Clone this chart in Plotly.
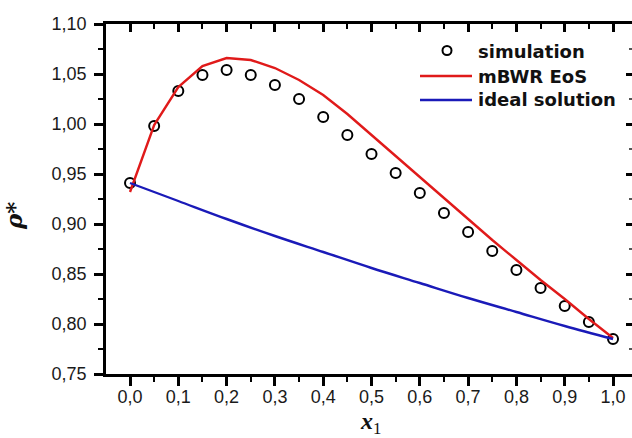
import plotly.graph_objects as go

x_sim = [0.0, 0.05, 0.1, 0.15, 0.2, 0.25, 0.3, 0.35, 0.4, 0.45, 0.5,
         0.55, 0.6, 0.65, 0.7, 0.75, 0.8, 0.85, 0.9, 0.95, 1.0]
rho_sim = [0.941, 0.998, 1.033, 1.049, 1.054, 1.049, 1.039, 1.025, 1.007, 0.989, 0.970,
           0.951, 0.931, 0.911, 0.892, 0.873, 0.854, 0.836, 0.818, 0.802, 0.785]

x_eos = x_sim
rho_eos = [0.932, 0.999, 1.037, 1.058, 1.066, 1.064, 1.056, 1.044, 1.029, 1.010, 0.989,
           0.968, 0.947, 0.926, 0.905, 0.884, 0.864, 0.844, 0.825, 0.805, 0.786]

x_ideal = [0.0, 0.1, 0.2, 0.3, 0.4, 0.5, 0.6, 0.7, 0.8, 0.9, 1.0]
rho_ideal = [0.941, 0.923, 0.905, 0.888, 0.872, 0.856, 0.841, 0.826, 0.812, 0.798, 0.785]

x_ticks = [0.0, 0.1, 0.2, 0.3, 0.4, 0.5, 0.6, 0.7, 0.8, 0.9, 1.0]
y_ticks = [0.75, 0.80, 0.85, 0.90, 0.95, 1.00, 1.05, 1.10]

legend_labels = ["simulation", "mBWR EoS", "ideal solution"]

X_RANGE = [-0.0497, 1.0393]
Y_RANGE = [0.75, 1.10]

RED = "#e01a1a"
BLUE = "#1a1ab8"

W, H = 632, 438
ML, MR, MT, MB = 106, 0, 24, 64
PW = W - ML - MR
PH = H - MT - MB


def px(xp):
    return (xp - ML) / PW


def py(yp):
    return 1 - (yp - MT) / PH


fig = go.Figure()
fig.add_trace(go.Scatter(
    x=x_sim, y=rho_sim, mode="markers", name=legend_labels[0], showlegend=False,
    marker=dict(symbol="circle-open", size=10, color="black", line=dict(width=2, color="black")),
))
fig.add_trace(go.Scatter(
    x=x_eos, y=rho_eos, mode="lines", name=legend_labels[1], showlegend=False,
    line=dict(color=RED, width=2.4),
))
fig.add_trace(go.Scatter(
    x=x_ideal, y=rho_ideal, mode="lines", name=legend_labels[2], line_shape="spline",
    showlegend=False,
    line=dict(color=BLUE, width=2.4),
))
# dummy trace on the top/right overlay axes
fig.add_trace(go.Scatter(x=[None], y=[None], xaxis="x2", yaxis="y2", showlegend=False))

tickfont = dict(family="Liberation Sans, Arial, sans-serif", size=18, color="#1a1a1a")
legfont = dict(family="DejaVu Sans, sans-serif", size=18, color="#111", weight="bold")

# custom legend (symbols + text)
shapes = [
    dict(type="circle", xref="paper", yref="paper",
         x0=px(442.5), x1=px(451.5), y0=py(55), y1=py(46),
         line=dict(color="black", width=2)),
    dict(type="line", xref="paper", yref="paper",
         x0=px(420), x1=px(472), y0=py(76), y1=py(76),
         line=dict(color=RED, width=2.4)),
    dict(type="line", xref="paper", yref="paper",
         x0=px(420), x1=px(472), y0=py(100), y1=py(100),
         line=dict(color=BLUE, width=2.4)),
]
annotations = []
for lab, yy in zip(legend_labels, [51, 76, 100]):
    annotations.append(dict(text=lab, x=px(476), y=py(yy), xref="paper", yref="paper",
                            xanchor="left", yanchor="middle", showarrow=False, font=legfont))

annotations.append(dict(text="<b><i>ρ*</i></b>", x=px(13), y=py(216), xref="paper", yref="paper",
                        xanchor="center", yanchor="middle",
                        showarrow=False, textangle=-90,
                        font=dict(family="DejaVu Serif, serif", size=23, color="#111")))
annotations.append(dict(text="<b><i>x</i></b><sub>1</sub>", x=px(370), y=py(423),
                        xref="paper", yref="paper", xanchor="center", yanchor="middle",
                        showarrow=False,
                        font=dict(family="Liberation Serif, serif", size=24, color="#111")))

fig.update_layout(
    width=W, height=H,
    margin=dict(l=ML, r=MR, t=MT, b=MB),
    paper_bgcolor="white", plot_bgcolor="white",
    separators=",.",
    showlegend=False,
    shapes=shapes,
    annotations=annotations,
    xaxis=dict(
        range=X_RANGE, tickvals=x_ticks, tickformat=".1f",
        showgrid=False, zeroline=False,
        showline=True, linecolor="black", linewidth=2.5,
        ticks="outside", ticklen=9, tickwidth=2.5, tickcolor="black",
        minor=dict(dtick=0.05, tick0=0, ticklen=5, tickwidth=2, tickcolor="black", ticks="outside"),
        tickfont=tickfont, ticklabelstandoff=-4,
    ),
    yaxis=dict(
        range=Y_RANGE, tickvals=y_ticks, tickformat=".2f",
        showgrid=False, zeroline=False,
        showline=True, linecolor="black", linewidth=2.5,
        ticks="outside", ticklen=9, tickwidth=2.5, tickcolor="black",
        minor=dict(dtick=0.025, tick0=0.75, ticklen=5, tickwidth=2, tickcolor="black", ticks="outside"),
        tickfont=tickfont, ticklabelstandoff=4,
    ),
    xaxis2=dict(
        range=X_RANGE, overlaying="x", side="top", anchor="y",
        tickvals=x_ticks, showticklabels=False,
        showgrid=False, zeroline=False,
        showline=True, linecolor="black", linewidth=2.5,
        ticks="inside", ticklen=8, tickwidth=2.5, tickcolor="black",
        minor=dict(dtick=0.05, tick0=0, ticklen=5, tickwidth=2, tickcolor="black", ticks="inside"),
    ),
    yaxis2=dict(
        range=Y_RANGE, overlaying="y", side="right", anchor="x",
        tickvals=y_ticks, showticklabels=False,
        showgrid=False, zeroline=False, showline=False,
        ticks="inside", ticklen=6, tickwidth=2.5, tickcolor="black",
        minor=dict(dtick=0.025, tick0=0.75, ticklen=3, tickwidth=1.5, tickcolor="#555", ticks="inside"),
    ),
)

fig.write_html("out.html")
